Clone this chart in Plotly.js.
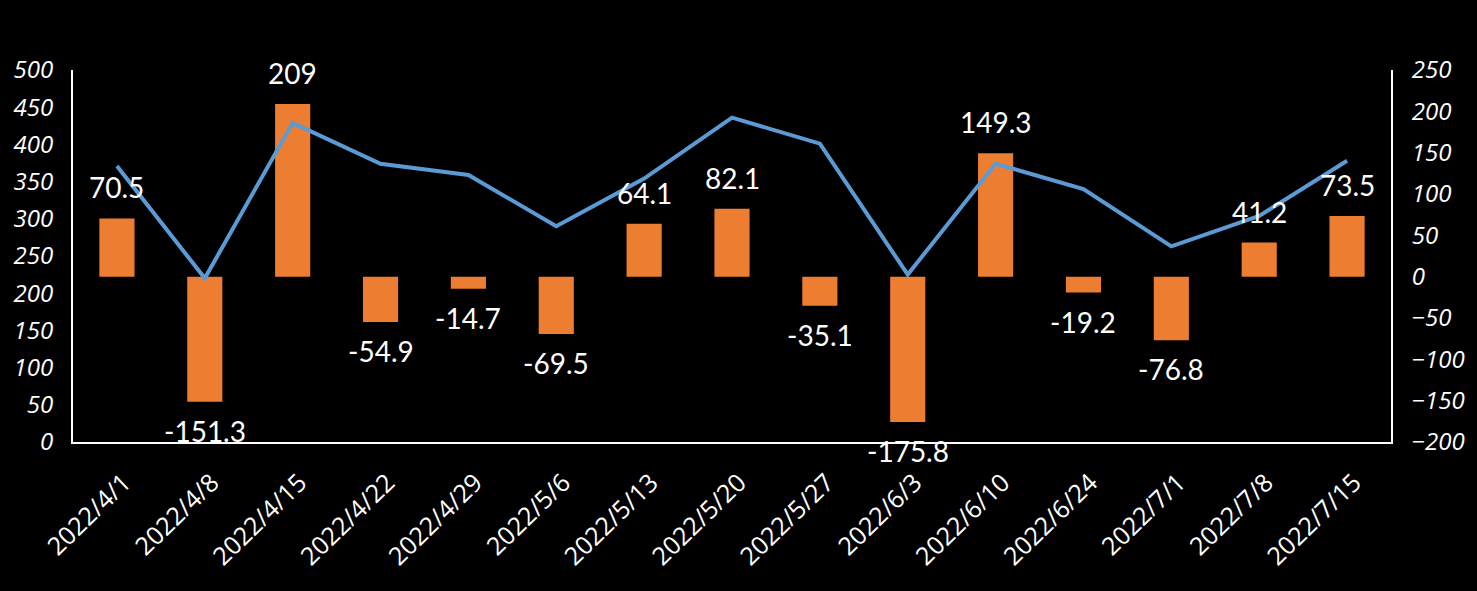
<!DOCTYPE html>
<html>
<head>
<meta charset="utf-8">
<script src="https://cdn.plot.ly/plotly-3.0.1.min.js"></script>
<style>html,body{margin:0;padding:0;background:#000;}#chart{width:1477px;height:591px;}</style>
</head>
<body>
<div id="chart"></div>
<script>
const categories = ["2022/4/1","2022/4/8","2022/4/15","2022/4/22","2022/4/29","2022/5/6","2022/5/13","2022/5/20","2022/5/27","2022/6/3","2022/6/10","2022/6/24","2022/7/1","2022/7/8","2022/7/15"];
const barValues = [70.5,-151.3,209,-54.9,-14.7,-69.5,64.1,82.1,-35.1,-175.8,149.3,-19.2,-76.8,41.2,73.5];
const lineValues = [371,220,429,374,359,290,354,436,401,225,374,340,263,304,378];
const barLabels = ["70.5","-151.3","209","-54.9","-14.7","-69.5","64.1","82.1","-35.1","-175.8","149.3","-19.2","-76.8","41.2","73.5"];

const LABEL_FONT = "Lato, Noto Sans, sans-serif";
const TICK_FONT = "Open Sans, Noto Sans, sans-serif";

const traces = [
  {type:'bar', x:categories, y:barValues, yaxis:'y', marker:{color:'#ED7D31'}, width:0.4},
  {type:'scatter', mode:'lines', x:categories, y:lineValues, yaxis:'y2', line:{color:'#5B9BD5', width:4}}
];

const annotations = categories.map((c,i)=>({
  x:c, y:barValues[i], xref:'x', yref:'y', text:barLabels[i], showarrow:false,
  yanchor:'middle', yshift: barValues[i] >= 0 ? 31 : -29,
  font:{family:LABEL_FONT, size:28, color:'#ffffff'}
}));

const tickfont = {family:TICK_FONT, size:24, color:'#ffffff', style:'italic'};

const layout = {
  width:1477, height:591,
  paper_bgcolor:'#000000', plot_bgcolor:'#000000',
  margin:{l:73, r:86, t:70, b:149},
  showlegend:false,
  xaxis:{type:'category', showline:true, linecolor:'#ffffff', linewidth:2, showgrid:false, zeroline:false,
         tickangle:-44, tickfont:{family:TICK_FONT, size:25, color:'#ffffff'}, ticks:'', range:[-0.5,14.5],
         ticklabelstandoff:14, ticklabelshift:7},
  yaxis:{side:'right', range:[-200,250], dtick:50, tick0:0, showline:true, linecolor:'#ffffff', linewidth:2,
         showgrid:false, zeroline:false, ticks:'', tickfont:tickfont, ticklabelstandoff:14},
  yaxis2:{side:'left', overlaying:'y', range:[0,500], dtick:50, tick0:0, showline:true, linecolor:'#ffffff', linewidth:2,
          showgrid:false, zeroline:false, ticks:'', tickfont:tickfont, ticklabelstandoff:13},
  annotations:annotations
};

Plotly.newPlot('chart', traces, layout, {displayModeBar:false, staticPlot:true});
</script>
</body>
</html>
